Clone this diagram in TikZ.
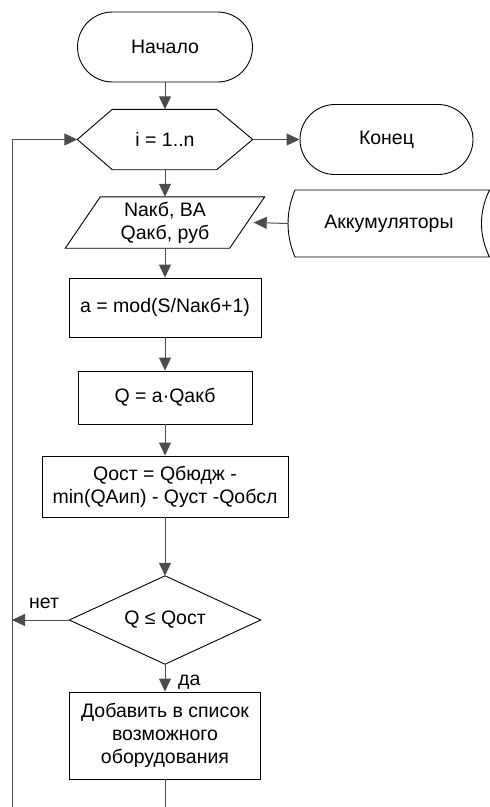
\documentclass[tikz,border=0pt]{standalone}
\usepackage{fontspec}
\setmainfont{Liberation Sans}
\usetikzlibrary{arrows.meta}
\begin{document}
\begin{tikzpicture}[x=1pt,y=-1pt,
  every node/.style={font=\fontsize{19.5}{23}\selectfont, align=center, inner sep=0pt},
  term/.style={draw=black, line width=0.9pt, rounded corners=35pt, minimum width=175pt, minimum height=70pt},
  proc/.style={draw=black, line width=0.9pt},
  frame/.style={draw=none},
  outline/.style={draw=black, line width=0.9pt, line join=miter},
  conn/.style={draw=black!70, line width=1pt, -{Triangle[length=13pt,width=12pt]}},
  lbl/.style={anchor=base west}
]
\clip (0,0) rectangle (490,807);

% start and loop header
\node[term] (start) at (165,47) {Начало};
\node[frame, minimum width=175pt, minimum height=60pt] (hex) at (165,139.5) {i = 1..n};
\draw[outline] (hex.west) -- ([xshift=35pt]hex.north west) -- ([xshift=-36pt]hex.north east)
  -- (hex.east) -- ([xshift=-36pt]hex.south east) -- ([xshift=35pt]hex.south west) -- cycle;
\node[term, minimum width=173pt] (end) at (386.5,139.5) {Конец};

% data input
\node[frame, minimum width=199pt, minimum height=51pt] (inp) at (165,222.5) {Nакб, BA\\Qакб, руб};
\draw[outline] ([xshift=35pt]inp.north west) -- (inp.north east)
  -- ([xshift=-35pt]inp.south east) -- (inp.south west) -- cycle;
\coordinate (inpin) at ([xshift=-11pt]inp.east);

% stored data
\node[frame, minimum width=202pt, minimum height=67pt] (store) at (389,223.5) {Аккумуляторы};
\draw[outline] (295,190) -- (489.5,190) .. controls (478.8,212) and (478.8,235) .. (489.5,257)
  -- (295,257) .. controls (285.7,235) and (285.7,212) .. (295,190) -- cycle;

% processing steps
\node[proc, minimum width=192pt, minimum height=59pt] (calca) at (165,307.5) {a = mod(S/Nакб+1)};
\node[proc, minimum width=174pt, minimum height=53pt] (calcq) at (165,397.5) {Q = a·Qакб};
\node[proc, minimum width=246pt, minimum height=61pt] (calcr) at (165,486.5) {Qост = Qбюдж -\\min(QАип) - Qуст -Qобсл};

% decision
\node[frame, minimum width=191pt, minimum height=88pt] (cond) at (165,620) {Q ≤ Qост};
\draw[outline] (cond.west) -- (cond.north) -- (cond.east) -- (cond.south) -- cycle;

\node[proc, minimum width=191pt, minimum height=87pt] (add) at (165,735.5) {Добавить в список\\возможного\\оборудования};

% connectors
\coordinate (loop) at (12,139.5);
\draw[conn] (start) -- (hex);
\draw[conn] (hex.east) -- (end.west);
\draw[conn] (hex) -- (inp);
\draw[conn] (store.west) -- (inpin);
\draw[conn] (inp) -- (calca);
\draw[conn] (calca) -- (calcq);
\draw[conn] (calcq) -- (calcr);
\draw[conn] (calcr) -- (cond);
\draw[conn] (cond) -- (add);
\draw[conn] (cond.west) -- (cond.west -| loop);
\draw[conn] (add.south) -- ++(0,60) -| (loop) -- (hex.west);

% branch labels
\node[lbl] (no) at (29,608) {нет};
\node[lbl] (yes) at (178,685) {да};
\end{tikzpicture}
\end{document}
